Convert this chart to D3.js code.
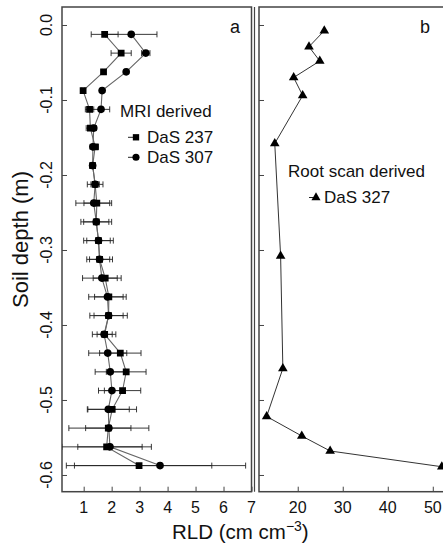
<!DOCTYPE html>
<html>
<head>
<meta charset="utf-8">
<script src="https://cdn.jsdelivr.net/npm/d3@7"></script>
<style>
  body { margin: 0; background: #fff; }
  text { font-family: "Liberation Sans", Arial, sans-serif; fill: #111; }
</style>
</head>
<body>
<div id="chart"></div>
<script>
// depth of each MRI layer (m)
const depthMRI = [-0.0125, -0.0375, -0.0625, -0.0875, -0.1125, -0.1375, -0.1625, -0.1875,
  -0.2125, -0.2375, -0.2625, -0.2875, -0.3125, -0.3375, -0.3625, -0.3875,
  -0.4125, -0.4375, -0.4625, -0.4875, -0.5125, -0.5375, -0.5625, -0.5875];
const rld237 = [1.75, 2.34, 1.71, 0.98, 1.21, 1.24, 1.41, 1.32, 1.41, 1.47, 1.45, 1.53,
  1.57, 1.77, 1.90, 1.89, 1.75, 2.31, 2.52, 2.39, 2.02, 1.88, 1.82, 2.98];
const err237 = [0.48, 0.36, 0.05, 0.05, 0.15, 0.15, 0.12, 0.08, 0.28, 0.46, 0.55, 0.53,
  0.46, 0.43, 0.51, 0.52, 0.27, 0.74, 0.71, 0.65, 0.87, 0.81, 1.60, 2.60];
const rld307 = [2.70, 3.22, 2.52, 1.66, 1.62, 1.36, 1.33, 1.32, 1.41, 1.36, 1.45, 1.53,
  1.57, 1.65, 1.85, 1.89, 1.73, 1.86, 1.95, 2.01, 1.88, 1.90, 1.94, 3.73];
const err307 = [0.92, 0.15, 0.05, 0.05, 0.31, 0.10, 0.10, 0.08, 0.15, 0.64, 0.45, 0.42,
  0.36, 0.69, 0.67, 0.67, 0.42, 0.68, 0.54, 0.48, 0.75, 1.43, 1.15, 3.06];

// root scan (panel b)
const depthScan = [-0.0076, -0.029, -0.048, -0.070, -0.094, -0.158, -0.308, -0.458,
  -0.522, -0.548, -0.568, -0.589];
const rld327 = [25.9, 22.5, 24.9, 19.1, 21.1, 14.9, 16.2, 16.7, 13.1, 20.9, 27.2, 52.0];

const yTicks = [0, -0.1, -0.2, -0.3, -0.4, -0.5, -0.6];
const yTickLabels = ["0.0", "-0.1", "-0.2", "-0.3", "-0.4", "-0.5", "-0.6"];
const xTicksA = [1, 2, 3, 4, 5, 6, 7];
const xTicksB = [20, 30, 40, 50];

const plotTop = 7, plotBottom = 491.7;
const frameCol = "#444";

const svg = d3.select("#chart")
    .append("svg")
    .attr("width", 443)
    .attr("height", 546);

const y = d3.scaleLinear().domain([0.024, -0.6223]).range([plotTop, plotBottom]);
const xA = d3.scaleLinear().domain([0.225, 7]).range([62, 251.5]);
const xB = d3.scaleLinear().domain([11.4, 53.6]).range([259, 449]);

svg.append("defs").append("clipPath").attr("id", "clipA")
    .append("rect").attr("x", 62).attr("y", plotTop)
    .attr("width", 251.5 - 62).attr("height", plotBottom - plotTop);

// inward ticks
function drawAxes(x, xTicks, labelY) {
    const x0 = x.range()[0];
    svg.append("g")
        .attr("transform", `translate(${x0},0)`)
        .call(d3.axisRight(y).tickValues(yTicks).tickSize(5).tickFormat(""))
        .call(g => g.select(".domain").remove())
        .selectAll("line").attr("stroke", frameCol);
    svg.append("g")
        .attr("transform", `translate(0,${plotBottom})`)
        .call(d3.axisTop(x).tickValues(xTicks).tickSize(5).tickFormat(""))
        .call(g => g.select(".domain").remove())
        .selectAll("line").attr("stroke", frameCol);

    // x tick labels
    svg.append("g").selectAll("text")
        .data(xTicks)
        .enter().append("text")
        .attr("x", d => x(d))
        .attr("y", 513)
        .attr("text-anchor", "middle")
        .style("font-size", "16px")
        .text(d => d);

    if (labelY) {
        svg.append("g").selectAll("text")
            .data(yTicks)
            .enter().append("text")
            .attr("transform", d => `translate(52,${y(d)}) rotate(-90)`)
            .attr("text-anchor", "middle")
            .style("font-size", "16px")
            .text((d, i) => yTickLabels[i]);
    }
}

drawAxes(xA, xTicksA, true);
drawAxes(xB, xTicksB, false);

// frames
svg.append("rect")
    .attr("x", 62).attr("y", plotTop)
    .attr("width", 251.5 - 62).attr("height", plotBottom - plotTop)
    .attr("fill", "none").attr("stroke", frameCol).attr("stroke-width", 1.5);
svg.append("line")
    .attr("x1", 254.5).attr("x2", 254.5).attr("y1", plotTop).attr("y2", plotBottom)
    .attr("stroke", frameCol).attr("stroke-width", 1.2);
svg.append("rect")
    .attr("x", 259).attr("y", plotTop)
    .attr("width", 200).attr("height", plotBottom - plotTop)
    .attr("fill", "none").attr("stroke", frameCol).attr("stroke-width", 1.5);

// panel a: lines, error bars, markers
const plotA = svg.append("g").attr("clip-path", "url(#clipA)");

const series = [
    {rld: rld237, err: err237, sym: d3.symbolSquare, size: 46},
    {rld: rld307, err: err307, sym: d3.symbolCircle, size: 46}
];

series.forEach(s => {
    const pts = depthMRI.map((d, i) => ({d: d, v: s.rld[i], e: s.err[i]}));
    plotA.append("path")
        .datum(pts)
        .attr("fill", "none")
        .attr("stroke", "#666")
        .attr("stroke-width", 1.1)
        .attr("d", d3.line().x(p => xA(p.v)).y(p => y(p.d)));

    const eb = plotA.append("g").attr("stroke", "#222").attr("stroke-width", 0.9);
    eb.selectAll(".bar").data(pts).enter().append("line")
        .attr("x1", p => xA(p.v - p.e)).attr("x2", p => xA(p.v + p.e))
        .attr("y1", p => y(p.d)).attr("y2", p => y(p.d));
    eb.selectAll(".capL").data(pts).enter().append("line")
        .attr("x1", p => xA(p.v - p.e)).attr("x2", p => xA(p.v - p.e))
        .attr("y1", p => y(p.d) - 3).attr("y2", p => y(p.d) + 3);
    eb.selectAll(".capR").data(pts).enter().append("line")
        .attr("x1", p => xA(p.v + p.e)).attr("x2", p => xA(p.v + p.e))
        .attr("y1", p => y(p.d) - 3).attr("y2", p => y(p.d) + 3);
});

series.forEach(s => {
    plotA.selectAll(null)
        .data(depthMRI.map((d, i) => ({d: d, v: s.rld[i]})))
        .enter().append("path")
        .attr("transform", p => `translate(${xA(p.v)},${y(p.d)})`)
        .attr("d", d3.symbol().type(s.sym).size(s.size))
        .attr("fill", "#000");
});

// panel b
const ptsB = depthScan.map((d, i) => ({d: d, v: rld327[i]}));
svg.append("path")
    .datum(ptsB)
    .attr("fill", "none")
    .attr("stroke", "#333")
    .attr("stroke-width", 1)
    .attr("d", d3.line().x(p => xB(p.v)).y(p => y(p.d)));
svg.selectAll(".tri")
    .data(ptsB)
    .enter().append("path")
    .attr("transform", p => `translate(${xB(p.v)},${y(p.d)})`)
    .attr("d", d3.symbol().type(d3.symbolTriangle).size(40))
    .attr("fill", "#000");

// panel letters
svg.append("text").attr("x", 235).attr("y", 33).attr("text-anchor", "middle")
    .style("font-size", "18px").text("a");
svg.append("text").attr("x", 425).attr("y", 33).attr("text-anchor", "middle")
    .style("font-size", "18px").text("b");

// legend a
svg.append("text").attr("x", 120).attr("y", 116.7).style("font-size", "17px").text("MRI derived");
const legA = [
    {sym: d3.symbolSquare, label: "DaS 237", ty: 143.3},
    {sym: d3.symbolCircle, label: "DaS 307", ty: 163.3}
];
legA.forEach(l => {
    svg.append("line").attr("x1", 128).attr("x2", 136)
        .attr("y1", l.ty - 6).attr("y2", l.ty - 6)
        .attr("stroke", "#222").attr("stroke-width", 1);
    svg.append("path").attr("transform", `translate(136,${l.ty - 6})`)
        .attr("d", d3.symbol().type(l.sym).size(40)).attr("fill", "#000");
    svg.append("text").attr("x", 147).attr("y", l.ty).style("font-size", "17px").text(l.label);
});

// legend b
svg.append("text").attr("x", 288).attr("y", 176.7).style("font-size", "17px").text("Root scan derived");
svg.append("line").attr("x1", 309).attr("x2", 316).attr("y1", 197.5).attr("y2", 197.5)
    .attr("stroke", "#222").attr("stroke-width", 1);
svg.append("path").attr("transform", "translate(316,197.5)")
    .attr("d", d3.symbol().type(d3.symbolTriangle).size(36)).attr("fill", "#000");
svg.append("text").attr("x", 324).attr("y", 203.3).style("font-size", "17px").text("DaS 327");

// axis titles
const xt = svg.append("text").attr("x", 172).attr("y", 539).style("font-size", "20.5px");
xt.append("tspan").text("RLD (cm cm");
xt.append("tspan").attr("dy", -8).style("font-size", "14px").text("\u22123");
xt.append("tspan").attr("dy", 8).text(")");

svg.append("text")
    .attr("transform", "translate(28,239.5) rotate(-90)")
    .attr("text-anchor", "middle")
    .style("font-size", "22px")
    .text("Soil depth (m)");
</script>
</body>
</html>
